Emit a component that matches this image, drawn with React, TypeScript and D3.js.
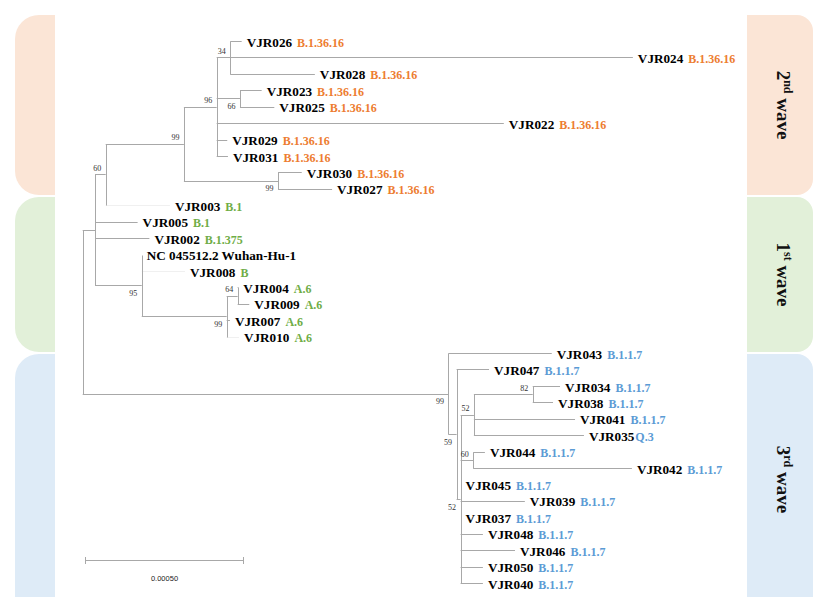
import * as d3 from 'd3';
import React, { useRef, useEffect } from 'react';

// tree as a parent table: node, its parent, branch length (substitutions/site)
const nodeIds = [
  "root", "n95", "n106", "n184", "n216", "n231", "VJR026", "VJR024", "VJR028",
  "n240", "VJR023", "VJR025", "VJR022", "VJR029", "VJR031", "n278", "VJR030", "VJR027",
  "VJR003", "VJR005", "VJR002", "n142", "NC 045512.2 Wuhan-Hu-1", "VJR008", "n227", "n238",
  "VJR004", "VJR009", "VJR007", "VJR010",
  "n449", "VJR043", "n457", "VJR047", "n461", "n474", "n533", "VJR034", "VJR038",
  "VJR041", "VJR035", "n473", "VJR044", "VJR042", "VJR045", "VJR039", "VJR037",
  "VJR048", "VJR046", "VJR050", "VJR040"
];
const parentIds = [
  null, "root", "n95", "n106", "n184", "n216", "n231", "n231", "n231",
  "n216", "n240", "n240", "n216", "n216", "n216", "n184", "n278", "n278",
  "n106", "n95", "n95", "n95", "n142", "n142", "n142", "n227",
  "n238", "n238", "n227", "n227",
  "root", "n449", "n449", "n457", "n457", "n461", "n474", "n533", "n533",
  "n474", "n474", "n461", "n473", "n473", "n461", "n461", "n461",
  "n461", "n461", "n461", "n461"
];
const branchLengths = [
  0, 3.87e-5, 3.36e-5, 24.6e-5, 10.3e-5, 4.28e-5, 3.58e-5, 126.6e-5, 26.6e-5,
  7.33e-5, 6.82e-5, 10.8e-5, 90.3e-5, 3.33e-5, 3.55e-5, 29.6e-5, 7.45e-5, 17.0e-5,
  20.2e-5, 13.4e-5, 17.1e-5, 14.7e-5, 0, 13.6e-5, 26.7e-5, 3.46e-5,
  0.2e-5, 3.65e-5, 1.04e-5, 3.87e-5,
  115.0e-5, 32.5e-5, 2.58e-5, 10.2e-5, 1.26e-5, 4.18e-5, 18.5e-5, 8.58e-5, 6.38e-5,
  31.8e-5, 34.6e-5, 3.96e-5, 3.68e-5, 49.9e-5, 0, 20.2e-5, 0,
  7.01e-5, 17.1e-5, 7.01e-5, 7.01e-5
];

// pango lineage of each sample and the wave it belongs to
const tipNames = [
  "VJR026", "VJR024", "VJR028", "VJR023", "VJR025", "VJR022", "VJR029", "VJR031", "VJR030", "VJR027",
  "VJR003", "VJR005", "VJR002", "VJR008", "VJR004", "VJR009", "VJR007", "VJR010",
  "VJR043", "VJR047", "VJR034", "VJR038", "VJR041", "VJR035", "VJR044", "VJR042", "VJR045",
  "VJR039", "VJR037", "VJR048", "VJR046", "VJR050", "VJR040"
];
const tipLineages = [
  "B.1.36.16", "B.1.36.16", "B.1.36.16", "B.1.36.16", "B.1.36.16", "B.1.36.16", "B.1.36.16", "B.1.36.16", "B.1.36.16", "B.1.36.16",
  "B.1", "B.1", "B.1.375", "B", "A.6", "A.6", "A.6", "A.6",
  "B.1.1.7", "B.1.1.7", "B.1.1.7", "B.1.1.7", "B.1.1.7", "Q.3", "B.1.1.7", "B.1.1.7", "B.1.1.7",
  "B.1.1.7", "B.1.1.7", "B.1.1.7", "B.1.1.7", "B.1.1.7", "B.1.1.7"
];
const tipWaves = [
  2, 2, 2, 2, 2, 2, 2, 2, 2, 2,
  1, 1, 1, 1, 1, 1, 1, 1,
  3, 3, 3, 3, 3, 3, 3, 3, 3, 3, 3, 3, 3, 3, 3
];

// bootstrap support
const bootNodes = ["n231", "n216", "n240", "n184", "n106", "n278", "n142", "n238", "n227",
  "n449", "n533", "n474", "n473", "n457", "n461"];
const bootValues = [34, 96, 66, 99, 60, 99, 95, 64, 99, 99, 82, 52, 60, 59, 52];
const bootBelow = ["n240", "n278", "n142", "n227", "n449", "n457", "n461"];

// wave bands, top to bottom
const waveOrdinals = ["2", "1", "3"];
const waveSuffixes = ["nd", "st", "rd"];
const waveIds = [2, 1, 3];

const scaleBarValue = 0.0005;

const waveColor = { 1: "#70AD47", 2: "#ED7D31", 3: "#5B9BD5" };
const bandColor = { 1: "#E2F0D9", 2: "#FBE5D6", 3: "#DEEBF7" };
const faint = ["VJR003", "VJR008", "VJR010"];

const leftPanel = (x0, x1, y0, y1, r) =>
  `M${x0 + r},${y0}H${x1}V${y1}H${x0 + r}A${r},${r} 0 0 1 ${x0},${y1 - r}V${y0 + r}A${r},${r} 0 0 1 ${x0 + r},${y0}Z`;
const rightPanel = (x0, x1, y0, y1, r) =>
  `M${x0},${y0}H${x1 - r}A${r},${r} 0 0 1 ${x1},${y0 + r}V${y1 - r}A${r},${r} 0 0 1 ${x1 - r},${y1}H${x0}Z`;

const App = () => {
  const svgRef = useRef(null);

  useEffect(() => {
    const width = 814;
    const height = 597;
    const svg = d3.select(svgRef.current);
    svg.selectAll("*").remove();

    // background bands
    const bands = [[15, 195], [197, 352], [354, 640]];
    const bg = svg.append("g");
    bands.forEach(([y0, y1], i) => {
      const w = waveIds[i];
      bg.append("path").attr("d", leftPanel(15, 55, y0, y1, 24)).attr("fill", bandColor[w]);
      bg.append("path").attr("d", rightPanel(747, 813, y0, y1, 16)).attr("fill", bandColor[w]);
      const cy = (y0 + Math.min(y1, height)) / 2 + (i === 2 ? 4 : 0);
      const t = bg.append("text")
        .attr("transform", `translate(777,${cy}) rotate(90)`)
        .attr("text-anchor", "middle")
        .attr("font-family", "Liberation Serif, Times New Roman, serif")
        .attr("font-weight", "bold")
        .attr("font-size", 19)
        .attr("fill", "#111");
      t.append("tspan").text(waveOrdinals[i]);
      t.append("tspan").attr("font-size", 12).attr("dy", -7).text(waveSuffixes[i]);
      t.append("tspan").attr("dy", 7).text(" wave");
    });

    // tree layout
    const table = nodeIds.map((id, i) => ({ id, parentId: parentIds[i], length: branchLengths[i] }));
    const root = d3.stratify().id(d => d.id).parentId(d => d.parentId)(table);
    root.eachBefore(n => { n.len = n.parent ? n.parent.len + n.data.length : 0; });

    const x = d3.scaleLinear().domain([0, scaleBarValue]).range([82.7, 241.7]);
    const leaves = root.leaves();
    const y = d3.scalePoint().domain(leaves.map(d => d.id)).range([41, 583]);
    root.eachAfter(n => {
      n.yy = n.children
        ? (n.children[0].yy + n.children[n.children.length - 1].yy) / 2
        : y(n.id);
    });

    const tree = svg.append("g").attr("stroke-width", 1).attr("fill", "none");

    tree.selectAll("line.h")
      .data(root.descendants().filter(n => n.parent))
      .enter().append("line")
      .attr("x1", n => x(n.parent.len))
      .attr("x2", n => x(n.len))
      .attr("y1", n => Math.round(n.yy) + 0.5)
      .attr("y2", n => Math.round(n.yy) + 0.5)
      .attr("stroke", n => faint.includes(n.id) ? "#f0f0f0" : "#a8a8a8");

    tree.selectAll("line.v")
      .data(root.descendants().filter(n => n.children))
      .enter().append("line")
      .attr("x1", n => Math.round(x(n.len)) + 0.5)
      .attr("x2", n => Math.round(x(n.len)) + 0.5)
      .attr("y1", n => Math.round(n.children[0].yy) + 0.5)
      .attr("y2", n => Math.round(n.children[n.children.length - 1].yy) + 0.5)
      .attr("stroke", "#a8a8a8");

    // bootstrap values
    svg.append("g")
      .selectAll("text")
      .data(bootNodes.map((id, i) => ({ node: root.find(n => n.id === id), v: bootValues[i], below: bootBelow.includes(id) })))
      .enter().append("text")
      .attr("x", d => x(d.node.len) - 8.5)
      .attr("y", d => d.node.yy + (d.below ? 8 : -6))
      .attr("dy", "0.35em")
      .attr("text-anchor", "middle")
      .attr("font-family", "Liberation Serif, Times New Roman, serif")
      .attr("font-size", 8)
      .attr("fill", "#333")
      .text(d => d.v);

    // tip labels
    const label = svg.append("g")
      .selectAll("text")
      .data(leaves)
      .enter().append("text")
      .attr("x", n => x(n.len) + 5)
      .attr("y", n => n.yy)
      .attr("dy", "0.35em")
      .attr("font-family", "Liberation Serif, Times New Roman, serif")
      .attr("font-weight", "bold");

    label.append("tspan")
      .attr("font-size", 13.2)
      .attr("fill", "#000")
      .text(n => n.id);

    label.filter(n => tipNames.includes(n.id))
      .append("tspan")
      .attr("dx", n => n.id === "VJR035" ? 1 : 5)
      .attr("font-size", 12)
      .attr("fill", n => waveColor[tipWaves[tipNames.indexOf(n.id)]])
      .text(n => tipLineages[tipNames.indexOf(n.id)]);

    // scale bar
    const bx0 = 85;
    const bx1 = bx0 + x(scaleBarValue) - x(0);
    const bar = svg.append("g").attr("stroke", "#a8a8a8");
    bar.append("line").attr("x1", bx0).attr("x2", bx1).attr("y1", 560.5).attr("y2", 560.5);
    bar.append("line").attr("x1", bx0 + 0.5).attr("x2", bx0 + 0.5).attr("y1", 557).attr("y2", 564);
    bar.append("line").attr("x1", bx1 - 0.5).attr("x2", bx1 - 0.5).attr("y1", 557).attr("y2", 564);
    svg.append("text")
      .attr("x", (bx0 + bx1) / 2)
      .attr("y", 578)
      .attr("dy", "0.35em")
      .attr("text-anchor", "middle")
      .attr("font-family", "Liberation Sans, Arial, sans-serif")
      .attr("font-size", 7.5)
      .attr("fill", "#222")
      .text(d3.format(".5f")(scaleBarValue));

    svg.attr("width", width).attr("height", height);
  }, []);

  return (
    <svg
      ref={svgRef}
      width={814}
      height={597}
      style={{ position: 'absolute', left: 0, top: 0, background: '#fff' }}
    />
  );
};

export default App;
